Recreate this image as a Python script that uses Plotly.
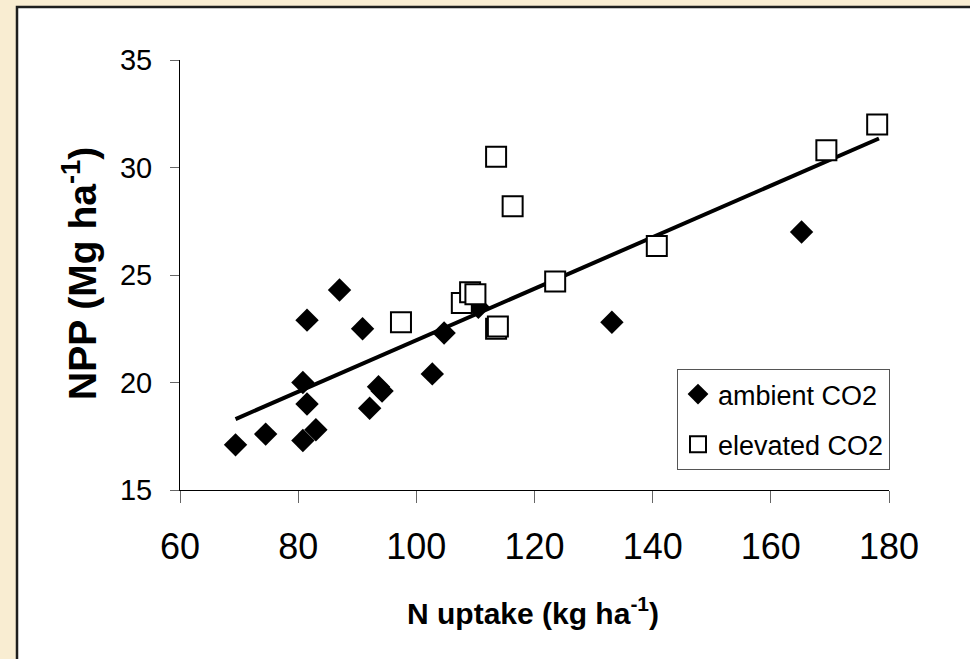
import plotly.graph_objects as go

# ambient CO2 (N uptake, NPP)
amb_x = [69.4, 74.5, 80.8, 83.0, 81.5, 80.8, 81.5, 87.0, 90.9, 92.1, 93.6, 94.2, 102.7, 104.7, 110.5, 133.1, 165.2]
amb_y = [17.1, 17.6, 17.3, 17.8, 19.0, 20.0, 22.9, 24.3, 22.5, 18.8, 19.8, 19.6, 20.4, 22.3, 23.5, 22.8, 27.0]

# elevated CO2
elv_x = [97.4, 107.7, 109.1, 110.0, 113.5, 113.8, 113.5, 116.3, 123.5, 140.7, 169.4, 178.0]
elv_y = [22.8, 23.7, 24.2, 24.1, 22.5, 22.6, 30.5, 28.2, 24.7, 26.35, 30.8, 32.0]

# linear trend line endpoints
trend_x = [69.4, 178.3]
trend_y = [18.3, 31.35]

x_ticks = [60, 80, 100, 120, 140, 160, 180]
y_ticks = [15, 20, 25, 30, 35]

FONT = "Arial, Liberation Sans, sans-serif"
BG = "#F9EDD2"

fig = go.Figure()
fig.add_trace(go.Scatter(x=trend_x, y=trend_y, mode="lines",
                         line=dict(color="black", width=4), showlegend=False,
                         hoverinfo="skip"))
fig.add_trace(go.Scatter(x=amb_x, y=amb_y, mode="markers", name="ambient CO2",
                         legendgroup="a",
                         marker=dict(symbol="diamond", size=18, color="black",
                                     line=dict(width=0))))
fig.add_trace(go.Scatter(x=elv_x, y=elv_y, mode="markers", name="elevated CO2",
                         legendgroup="b",
                         marker=dict(symbol="square", size=20, color="white",
                                     line=dict(width=2, color="black"))))

W, H = 970, 659
L, R, T, B = 180, 81, 60, 169
pw, ph = W - L - R, H - T - B

def px(x):
    return (x - L) / pw

def py(y):
    return (H - B - y) / ph

fig.add_shape(type="rect", xref="paper", yref="paper",
              x0=px(17), x1=px(990), y0=py(680), y1=py(7),
              fillcolor="white", line=dict(color="#1e1e1e", width=2.5),
              layer="below")

fig.add_annotation(text="<b>NPP (Mg ha<sup>-1</sup>)</b>", xref="paper", yref="paper",
                   x=px(79), y=py(274), xanchor="center", yanchor="middle",
                   textangle=-90, showarrow=False,
                   font=dict(family=FONT, size=39, color="black"))
fig.add_annotation(text="<b>N uptake (kg ha<sup>-1</sup>)</b>", xref="paper", yref="paper",
                   x=px(533), y=py(611), xanchor="center", yanchor="middle",
                   showarrow=False,
                   font=dict(family=FONT, size=30, color="black"))

fig.update_layout(
    width=W, height=H,
    margin=dict(l=L, r=R, t=T, b=B),
    paper_bgcolor=BG,
    plot_bgcolor="white",
    font=dict(family=FONT, color="black"),
    legend=dict(x=px(677), y=py(369), xanchor="left", yanchor="top",
                bgcolor="white", bordercolor="#555555", borderwidth=1,
                font=dict(family=FONT, size=27, color="black"),
                traceorder="grouped", tracegroupgap=12),
    xaxis=dict(range=[60, 180], tickvals=x_ticks, showgrid=False, zeroline=False,
               showline=True, linecolor="black", linewidth=1,
               ticks="outside", ticklen=12, tickcolor="#666666", tickwidth=1,
               tickfont=dict(family=FONT, size=36, color="black"),
               ticklabelstandoff=13),
    yaxis=dict(range=[15, 35], tickvals=y_ticks, showgrid=False, zeroline=False,
               showline=True, linecolor="black", linewidth=1,
               ticks="outside", ticklen=9, tickcolor="#666666", tickwidth=1,
               tickfont=dict(family=FONT, size=29, color="black"),
               ticklabelstandoff=12),
)

fig.write_html("out.html", config={"displayModeBar": False},
               post_script="document.body.style.margin='0';"
                           "document.body.style.background='" + BG + "';")
